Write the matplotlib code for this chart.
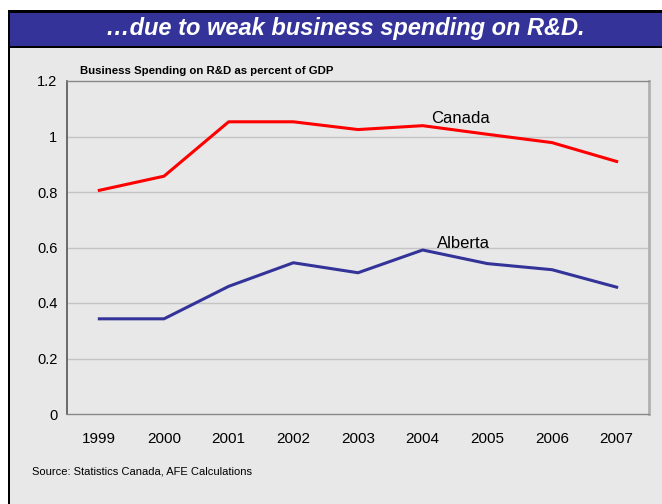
import matplotlib
matplotlib.use("Agg")
import matplotlib.pyplot as plt
from matplotlib.patches import Rectangle

years = ["1999", "2000", "2001", "2002", "2003", "2004", "2005", "2006", "2007"]
canada = [0.806, 0.857, 1.053, 1.053, 1.025, 1.039, 1.008, 0.978, 0.910]
alberta = [0.343, 0.343, 0.460, 0.545, 0.509, 0.591, 0.542, 0.520, 0.457]
yticks = [0, 0.2, 0.4, 0.6, 0.8, 1.0, 1.2]
ytick_labels = ["0", "0.2", "0.4", "0.6", "0.8", "1", "1.2"]

plt.rcParams['font.family'] = ['Liberation Sans', 'DejaVu Sans']

W, H = 662, 504
fig = plt.figure(figsize=(W / 100, H / 100), dpi=100)
fig.patch.set_facecolor("white")

def fx(px):
    return px / W

def fy(py):
    return 1 - py / H

# panel background
fig.patches.append(Rectangle((fx(8), 0), 1 - fx(8), fy(10), transform=fig.transFigure,
                             facecolor="#e8e8e8", edgecolor="none", zorder=-3))
# blue title band with black lines
fig.patches.append(Rectangle((fx(8), fy(48)), 1 - fx(8), fy(10) - fy(48), transform=fig.transFigure,
                             facecolor="black", edgecolor="none", zorder=-2))
fig.patches.append(Rectangle((fx(10), fy(45.5)), 1 - fx(10), fy(12.5) - fy(45.5), transform=fig.transFigure,
                             facecolor="#333399", edgecolor="none", zorder=-1))
# left black border
fig.patches.append(Rectangle((fx(7.5), 0), fx(2.5), fy(10), transform=fig.transFigure,
                             facecolor="black", edgecolor="none", zorder=-1))

fig.text(fx(345), fy(28.5), "\u2026due to weak business spending on R&D.", color="white",
         fontsize=17, fontweight="bold", fontstyle="italic", ha="center", va="center", zorder=3)

ax = fig.add_axes([fx(67), fy(414), fx(649) - fx(67), fy(81) - fy(414)])
ax.set_zorder(5)
ax.set_facecolor("#e8e8e8")
x = list(range(len(years)))
ax.plot(x, canada, color="#ff0000", lw=2.2, zorder=3)
ax.plot(x, alberta, color="#333399", lw=2.2, zorder=3)

ax.set_xlim(-0.5, len(years) - 0.5)
ax.set_ylim(0, 1.2)
ax.set_yticks(yticks)
ax.set_yticklabels(ytick_labels)
ax.set_xticks(x)
ax.set_xticklabels(years)
ax.tick_params(axis="both", length=0, colors="black")
ax.tick_params(axis="y", pad=7, labelsize=10.5)
ax.tick_params(axis="x", pad=13, labelsize=11)
for v in yticks[1:-1]:
    ax.axhline(v, color="#c4c4c4", lw=1, zorder=1)

ax.spines["left"].set_color("#555555")
ax.spines["left"].set_linewidth(1.2)
ax.spines["bottom"].set_color("#888888")
ax.spines["bottom"].set_linewidth(1.0)
ax.spines["top"].set_color("#888888")
ax.spines["top"].set_linewidth(1.0)
ax.spines["right"].set_color("#b0b0b0")
ax.spines["right"].set_linewidth(2.0)

ax.text(5.58, 1.064, "Canada", fontsize=12, ha="center", va="center", color="black")
ax.text(5.63, 0.614, "Alberta", fontsize=12, ha="center", va="center", color="black")

fig.text(fx(80), fy(71), "Business Spending on R&D as percent of GDP", fontsize=8.2,
         fontweight="bold", ha="left", va="center", color="black")
fig.text(fx(32), fy(471), "Source: Statistics Canada, AFE Calculations", fontsize=8,
         ha="left", va="center", color="black")

fig.savefig("out.png", dpi=100, facecolor=fig.get_facecolor())
